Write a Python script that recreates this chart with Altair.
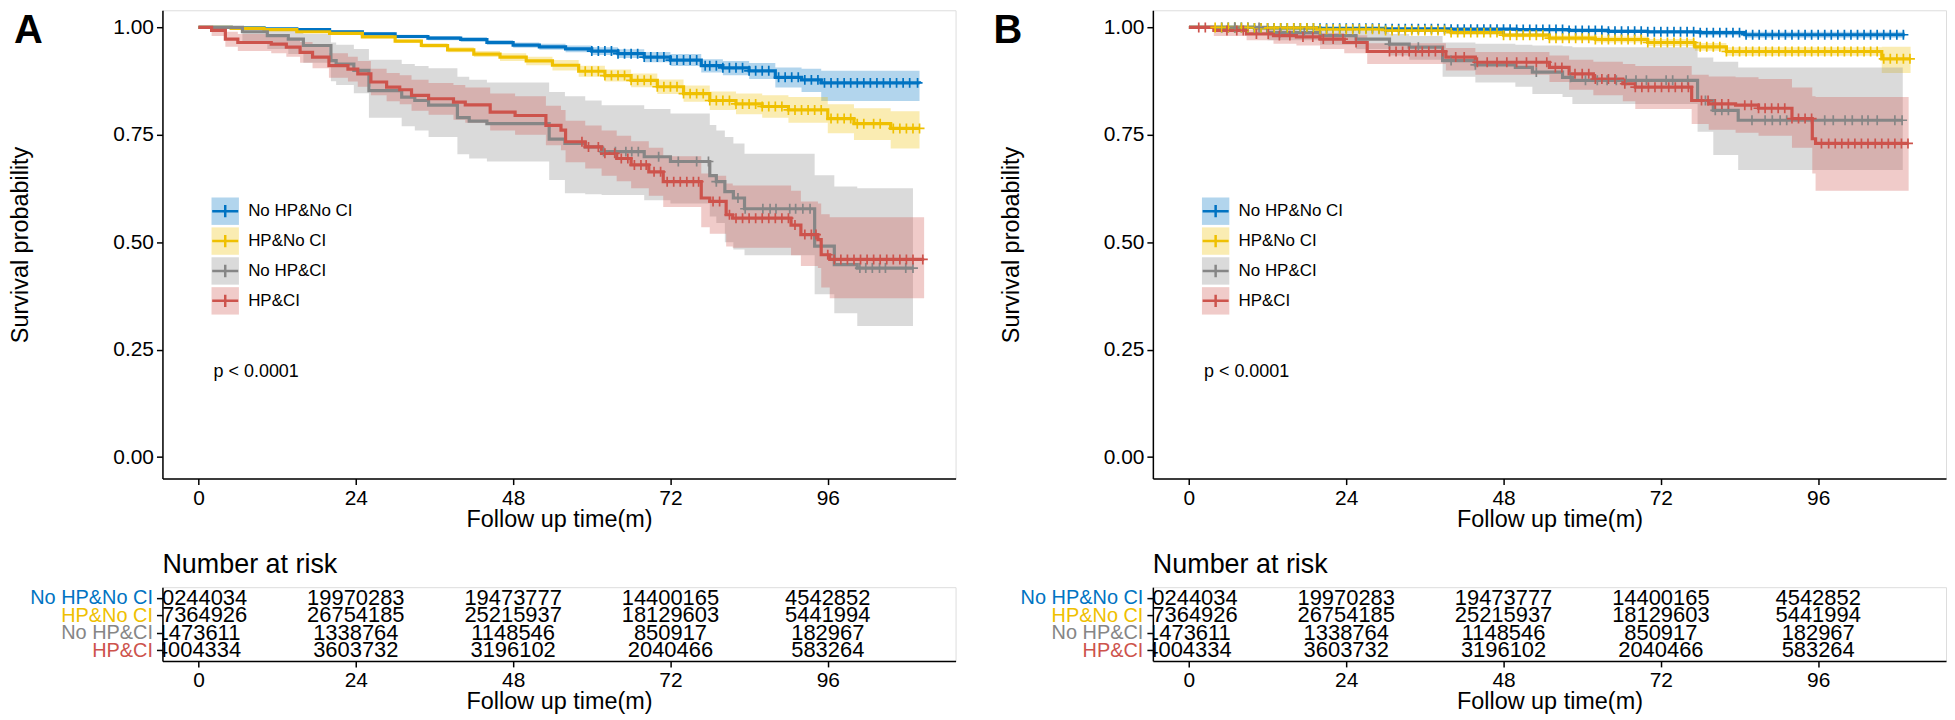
import bisect
import altair as alt
import pandas as pd

GROUPS = ["No HP&No CI", "HP&No CI", "No HP&CI", "HP&CI"]
CODES = ["nn", "hn", "nc", "hc"]
COLORS = ["#0073C2", "#EFC000", "#868686", "#CD534C"]
FONT = "Liberation Sans"

X_TICKS = [0, 24, 48, 72, 96]
Y_TICKS = [0, 0.25, 0.5, 0.75, 1.0]
RISK_TIMES = [0, 24, 48, 72, 96]

# number at risk (same table under both panels)
RISK_NN = ["20244034", "19970283", "19473777", "14400165", "4542852"]
RISK_HN = ["27364926", "26754185", "25215937", "18129603", "5441994"]
RISK_NC = ["1473611", "1338764", "1148546", "850917", "182967"]
RISK_HC = ["4004334", "3603732", "3196102", "2040466", "583264"]

PVAL_TEXT = "p < 0.0001"
PVAL_X = 2.3
PVAL_Y = 0.197

# ---------------- Panel A ----------------
A_nn_t = [0, 5, 10, 15, 20, 25, 30, 35, 40, 44, 48, 52, 56, 60, 64, 68, 72, 76.7, 80, 84, 88, 92, 95, 110]
A_nn_s = [1.0, 0.999, 0.997, 0.995, 0.99, 0.985, 0.979, 0.975, 0.972, 0.965, 0.959, 0.955, 0.95, 0.945, 0.939, 0.931, 0.924, 0.911, 0.906, 0.899, 0.884, 0.878, 0.871, 0.870]
A_nn_lo = [1.0, 0.998, 0.995, 0.992, 0.987, 0.981, 0.975, 0.970, 0.966, 0.959, 0.953, 0.948, 0.942, 0.936, 0.929, 0.919, 0.910, 0.895, 0.889, 0.88, 0.86, 0.85, 0.829, 0.828]
A_nn_up = [1.0, 1.0, 0.999, 0.998, 0.993, 0.989, 0.983, 0.98, 0.978, 0.971, 0.965, 0.962, 0.958, 0.954, 0.949, 0.943, 0.938, 0.926, 0.922, 0.917, 0.907, 0.904, 0.899, 0.899]
A_nn_cens = [60, 61, 62, 63, 64, 65, 66, 67, 68, 69, 70, 71, 72, 73, 74, 75, 76, 77.3, 78, 79, 80, 81, 82, 83, 84, 85, 86, 87, 88.5, 89.5,
             90.5, 91.5, 92.5, 93.5, 94.5, 95.5, 96.5, 97.5, 98.5, 99.5, 100.5, 101.5, 102.5, 103.5, 104.5, 105.5, 106.5, 107.5, 108.5, 109.7]

A_hn_t = [0, 5, 10, 15, 20, 25, 30, 34, 38, 42, 46, 50, 54, 58, 62, 66, 70, 74, 78, 82, 86, 90, 96, 100, 105.6, 110]
A_hn_s = [1.0, 0.998, 0.995, 0.99, 0.986, 0.978, 0.968, 0.958, 0.948, 0.938, 0.931, 0.922, 0.912, 0.898, 0.888, 0.877, 0.862, 0.846, 0.83, 0.822, 0.816, 0.808, 0.788, 0.776, 0.765, 0.765]
A_hn_lo = [1.0, 0.997, 0.993, 0.988, 0.983, 0.975, 0.964, 0.953, 0.942, 0.931, 0.922, 0.912, 0.9, 0.885, 0.874, 0.861, 0.845, 0.827, 0.808, 0.798, 0.79, 0.778, 0.754, 0.738, 0.718, 0.718]
A_hn_up = [1.0, 0.999, 0.997, 0.993, 0.989, 0.982, 0.972, 0.963, 0.954, 0.945, 0.94, 0.932, 0.924, 0.911, 0.902, 0.893, 0.879, 0.865, 0.851, 0.846, 0.842, 0.838, 0.821, 0.812, 0.805, 0.805]
A_hn_cens = [59, 60, 61, 62, 63, 64, 65, 66, 67, 68, 69, 70, 71, 72, 73, 74, 75, 76, 77, 78, 79, 80, 81, 82, 83, 84, 85, 86, 87, 88,
             89, 90, 91, 92, 93, 94, 95, 96.5, 97.5, 98.5, 99.5, 100.5, 101.5, 103, 104, 106, 107, 108, 109, 110]

A_nc_t = [0, 6.7, 10.5, 13.7, 16, 20.2, 21, 23.7, 26, 31, 33, 35.1, 39.5, 41.3, 44, 53.5, 55.9, 59, 61.5, 68, 72, 78, 79, 80.3, 81.6, 83.3, 94, 97, 100.5, 109]
A_nc_s = [1.0, 0.99, 0.981, 0.973, 0.958, 0.923, 0.915, 0.9, 0.853, 0.838, 0.83, 0.819, 0.79, 0.782, 0.776, 0.74, 0.73, 0.722, 0.711, 0.699, 0.688, 0.655, 0.641, 0.618, 0.603, 0.578, 0.491, 0.448, 0.44, 0.44]
A_nc_lo = [1.0, 0.965, 0.95, 0.938, 0.918, 0.875, 0.866, 0.847, 0.79, 0.77, 0.76, 0.745, 0.705, 0.695, 0.688, 0.645, 0.614, 0.612, 0.61, 0.598, 0.59, 0.56, 0.545, 0.5, 0.483, 0.47, 0.379, 0.335, 0.305, 0.305]
A_nc_up = [1.0, 1.0, 0.998, 0.993, 0.985, 0.965, 0.96, 0.95, 0.925, 0.915, 0.91, 0.905, 0.885, 0.878, 0.872, 0.85, 0.84, 0.83, 0.819, 0.81, 0.8, 0.773, 0.76, 0.745, 0.73, 0.706, 0.656, 0.63, 0.626, 0.626]
A_nc_cens = [61.8, 63.6, 65.2, 66.1, 67.1, 70.2, 73.2, 76, 77.8, 79, 82.3, 83.4, 86.1, 87.2, 88.1, 90.2, 91.1, 92.2, 93.3,
             100.9, 101.8, 102.8, 103.9, 104.8, 107.9, 109]

A_hc_t = [0, 2, 4.1, 6, 11.1, 13.4, 15.5, 17.4, 19.9, 22.8, 24.3, 26.3, 28.7, 30.7, 32.5, 35.1, 38.9, 40.7, 44.5, 48.3, 53, 55.3, 56,
          59, 61.5, 63.8, 66, 68.7, 70.9, 76.7, 78, 80.5, 81.5, 90.4, 91.9, 94.5, 95, 96.3, 110.7]
A_hc_s = [1.0, 0.993, 0.973, 0.965, 0.961, 0.954, 0.942, 0.931, 0.911, 0.903, 0.892, 0.873, 0.861, 0.855, 0.842, 0.834, 0.826, 0.82, 0.803, 0.795, 0.772, 0.761, 0.734,
          0.722, 0.707, 0.695, 0.68, 0.664, 0.641, 0.603, 0.595, 0.564, 0.556, 0.54, 0.518, 0.506, 0.471, 0.46, 0.46]
A_hc_lo = [1.0, 0.98, 0.955, 0.945, 0.94, 0.932, 0.918, 0.905, 0.883, 0.874, 0.862, 0.842, 0.828, 0.821, 0.806, 0.797, 0.785, 0.778, 0.76, 0.75, 0.726, 0.714, 0.686,
           0.672, 0.655, 0.642, 0.626, 0.608, 0.582, 0.535, 0.52, 0.49, 0.487, 0.47, 0.445, 0.44, 0.395, 0.37, 0.37]
A_hc_up = [1.0, 1.0, 0.99, 0.985, 0.982, 0.976, 0.966, 0.957, 0.94, 0.932, 0.922, 0.904, 0.894, 0.889, 0.878, 0.871, 0.866, 0.86, 0.846, 0.84, 0.818, 0.808, 0.783,
           0.772, 0.76, 0.748, 0.735, 0.72, 0.7, 0.66, 0.655, 0.637, 0.632, 0.62, 0.595, 0.59, 0.565, 0.558, 0.558]
A_hc_cens = [58.5, 59.5, 61, 62, 63.5, 64.5, 65.5, 66.5, 67.5, 68.3, 69.5, 70.5, 71.5, 72.5, 73.5, 74.5, 75.5, 76.3, 78.5, 79.5, 81, 82, 83, 84, 85,
             86, 87, 88, 89, 90, 91, 92.5, 93.5, 94.2, 96, 97, 98, 99, 100, 101, 102, 103, 104, 105, 106, 107, 108, 109, 110.5]

# ---------------- Panel B ----------------
B_nn_t = [0, 10, 20, 30, 40, 50, 58, 64, 70, 78, 84.8, 109.2]
B_nn_s = [1.0, 0.999, 0.998, 0.997, 0.996, 0.995, 0.993, 0.991, 0.99, 0.988, 0.983, 0.983]
B_nn_lo = [1.0, 0.998, 0.996, 0.994, 0.993, 0.991, 0.989, 0.987, 0.985, 0.982, 0.976, 0.975]
B_nn_up = [1.0, 1.0, 0.999, 0.999, 0.998, 0.998, 0.997, 0.995, 0.994, 0.993, 0.99, 0.99]
B_nn_cens = [5, 6, 7, 8, 9, 10, 11, 12, 13, 14, 15, 16, 17, 18, 19, 20, 21, 22, 23, 24, 25, 26, 27, 28, 29, 30, 31, 32, 33, 34,
             35, 36, 37, 38, 39, 40, 41, 42, 43, 44, 45, 46, 47, 48, 49, 50, 51, 52, 53, 54, 55, 56, 57, 58, 59, 60, 61, 62, 63, 64,
             65, 66, 67, 68, 69, 70, 71, 72, 73, 74, 75, 76, 77, 78, 79, 80, 81, 82, 83, 84, 85, 86, 87, 88, 89, 90, 91, 92, 93, 94,
             95, 96, 97, 98, 99, 100, 101, 102, 103, 104, 105, 106, 107, 108, 109]

B_hn_t = [0, 10, 19.5, 30, 40, 48, 55, 62, 70, 77.2, 82, 105.7, 110.1]
B_hn_s = [1.0, 0.999, 0.996, 0.993, 0.988, 0.982, 0.975, 0.972, 0.965, 0.955, 0.944, 0.927, 0.927]
B_hn_lo = [1.0, 0.998, 0.994, 0.99, 0.984, 0.977, 0.969, 0.965, 0.957, 0.946, 0.934, 0.894, 0.894]
B_hn_up = [1.0, 1.0, 0.998, 0.996, 0.992, 0.987, 0.981, 0.979, 0.973, 0.964, 0.954, 0.955, 0.955]
B_hn_cens = [4, 5, 6, 7, 8, 9, 10, 11, 12, 13, 14, 15, 16, 17, 18, 19, 20, 21, 22, 23, 24, 25, 26, 27, 28, 29, 30, 31, 32, 33,
             34, 35, 36, 37, 38, 39, 40, 41, 42, 43, 44, 45, 46, 47, 48, 49, 50, 51, 52, 53, 54, 55, 56, 57, 58, 59, 60, 61, 62, 63,
             64, 65, 66, 67, 68, 69, 70, 71, 72, 73, 74, 75, 76, 77, 78, 79, 80, 81, 82, 83, 84, 85, 86, 87, 88, 89, 90, 91, 92, 93,
             94, 95, 96, 97, 98, 99, 100, 101, 102, 103, 104, 105, 106, 107, 108, 109, 110]

B_nc_t = [0, 12, 20, 25.5, 30.6, 33.6, 38.7, 43.7, 49.8, 52.4, 57, 58.5, 77.6, 80, 83.8, 108.9]
B_nc_s = [1.0, 0.988, 0.981, 0.973, 0.961, 0.954, 0.923, 0.913, 0.907, 0.896, 0.884, 0.877, 0.83, 0.807, 0.784, 0.784]
B_nc_lo = [1.0, 0.97, 0.96, 0.95, 0.935, 0.925, 0.885, 0.872, 0.862, 0.845, 0.838, 0.822, 0.757, 0.703, 0.668, 0.668]
B_nc_up = [1.0, 1.0, 0.996, 0.992, 0.985, 0.98, 0.965, 0.962, 0.96, 0.958, 0.956, 0.954, 0.93, 0.92, 0.907, 0.907]
B_nc_cens = [7, 10.7, 13.9, 17.6, 30.6, 35, 40, 43.7, 53, 58.2, 60.5, 62.3, 63.8, 65.2, 66.7, 68.2, 69.8, 72.8, 73.8, 76.1,
             78.8, 80.3, 81.3, 82.3, 85.9, 87.9, 89, 90.2, 91.2, 97, 98.3, 100.1, 101.2, 102.7, 103.6, 105, 107.7, 108.8]

B_hc_t = [0, 3.8, 8.8, 12.9, 16.4, 20, 23.7, 27.2, 39.2, 43.7, 55, 58, 61.7, 66.2, 68.1, 76.7, 79.3, 83.4, 86.9, 92, 95.1, 95.6, 109.8]
B_hc_s = [1.0, 0.993, 0.985, 0.981, 0.978, 0.973, 0.965, 0.944, 0.931, 0.919, 0.907, 0.892, 0.88, 0.869, 0.861, 0.83, 0.822, 0.819, 0.812, 0.788, 0.741, 0.73, 0.73]
B_hc_lo = [1.0, 0.98, 0.97, 0.962, 0.958, 0.95, 0.94, 0.915, 0.9, 0.89, 0.873, 0.855, 0.842, 0.828, 0.81, 0.775, 0.762, 0.755, 0.748, 0.72, 0.66, 0.62, 0.62]
B_hc_up = [1.0, 1.0, 0.995, 0.993, 0.99, 0.987, 0.982, 0.963, 0.952, 0.943, 0.935, 0.925, 0.92, 0.915, 0.91, 0.89, 0.886, 0.884, 0.88, 0.86, 0.84, 0.838, 0.838]
B_hc_cens = [1.5, 2.5, 5.8, 7.3, 8.3, 10.3, 12.1, 13.8, 15.4, 17.4, 18.9, 20.5, 22, 23.5, 25.5, 30.6, 31.6, 32.6, 33.6, 34.6, 35.6, 36.6,
             37.6, 38.7, 40.7, 42, 44, 45.5, 47, 48.5, 50, 51.5, 53, 54.6, 55.9, 56.9, 58.9, 60, 61, 62, 63, 64, 65, 66.5, 68.1, 69.1,
             70.1, 71.1, 72.1, 73.2, 74.2, 75.2, 76.2, 78.2, 79.2, 80.3, 81.3, 82.3, 84.8, 85.8, 86.9, 87.9, 88.9, 89.9, 90.9, 92, 93,
             94, 95, 96.5, 97.6, 98.6, 99.6, 100.6, 101.6, 102.6, 103.6, 104.7, 105.7, 106.7, 107.7, 108.7, 109.7]

A_CURVES = [(A_nn_t, A_nn_s, A_nn_lo, A_nn_up), (A_hn_t, A_hn_s, A_hn_lo, A_hn_up),
            (A_nc_t, A_nc_s, A_nc_lo, A_nc_up), (A_hc_t, A_hc_s, A_hc_lo, A_hc_up)]
A_CENS = [A_nn_cens, A_hn_cens, A_nc_cens, A_hc_cens]
B_CURVES = [(B_nn_t, B_nn_s, B_nn_lo, B_nn_up), (B_hn_t, B_hn_s, B_hn_lo, B_hn_up),
            (B_nc_t, B_nc_s, B_nc_lo, B_nc_up), (B_hc_t, B_hc_s, B_hc_lo, B_hc_up)]
B_CENS = [B_nn_cens, B_hn_cens, B_nc_cens, B_hc_cens]
RISK = [RISK_NN, RISK_HN, RISK_NC, RISK_HC]

# ---------------- layout constants ----------------
PW, PH = 796, 470
TH = 74


def curves_frame(curves):
    rows = []
    for g, code, (t, s, lo, up) in zip(GROUPS, CODES, curves):
        for ti, si, li, ui in zip(t, s, lo, up):
            rows.append({"t": ti, "s": si, "lo": li, "up": ui, "grp": g, "code": code})
    return pd.DataFrame(rows)


def censor_frame(curves, censors):
    rows = []
    for code, (t, s, lo, up), ct in zip(CODES, curves, censors):
        for c in ct:
            i = bisect.bisect_right(t, c) - 1
            rows.append({"t": c, "s": s[i], "code": code})
    return pd.DataFrame(rows)


XS = alt.Scale(domain=[-5.5, 115.5], nice=False, zero=False)
YS = alt.Scale(domain=[-0.05, 1.04], nice=False, zero=False)

AX_COMMON = dict(grid=False, domainColor="black", tickColor="black", labelColor="black", titleColor="black",
                 domainWidth=1.5, tickWidth=1.5, tickSize=6, labelFont=FONT, titleFont=FONT,
                 titleFontWeight="normal")

X_AXIS = alt.Axis(values=X_TICKS, title="Follow up time(m)", labelFontSize=21, titleFontSize=23.5,
                  labelPadding=3, titlePadding=-1, **AX_COMMON)
Y_AXIS = alt.Axis(values=Y_TICKS, format=".2f", title="Survival probability", labelFontSize=21,
                  titleFontSize=23.5, labelPadding=3, titleX=-142, titleY=PH / 2, titleBaseline="middle",
                  **AX_COMMON)

LEG_COMMON = dict(orient="none", legendX=48, legendY=187, title=None, symbolSize=756, symbolStrokeWidth=2.5,
                  labelFont=FONT, labelFontSize=17, labelColor="black", labelOffset=8, rowPadding=0, padding=0,
                  clipHeight=29.3)
FILL_LEGEND = alt.Legend(symbolType="square", symbolOpacity=0.3, symbolStrokeColor="transparent", **LEG_COMMON)
STROKE_LEGEND = alt.Legend(symbolType="M-0.95,0H0.95M0,-0.45V0.45", labelExpr="''", **LEG_COMMON)


def km_chart(curves, censors, letter, letter_x):
    cdf = curves_frame(curves)
    pdf = censor_frame(curves, censors)
    x = alt.X("t:Q", scale=XS, axis=X_AXIS)
    fill = alt.Fill("grp:N", scale=alt.Scale(domain=GROUPS, range=COLORS), legend=FILL_LEGEND)
    stroke = alt.Stroke("code:N", scale=alt.Scale(domain=CODES, range=COLORS), legend=STROKE_LEGEND)

    band = alt.Chart(cdf).mark_area(interpolate="step-after", opacity=0.3).encode(
        x=x, y=alt.Y("lo:Q", scale=YS, axis=Y_AXIS), y2="up:Q", fill=fill)
    line = alt.Chart(cdf).mark_line(interpolate="step-after", strokeWidth=3.2).encode(
        x=x, y=alt.Y("s:Q", scale=YS, axis=Y_AXIS), stroke=stroke)
    pts = alt.Chart(pdf).mark_point(shape="M-1,0H1M0,-1V1", size=100, strokeWidth=1.7, filled=False,
                                    opacity=1).encode(
        x=x, y=alt.Y("s:Q", scale=YS, axis=Y_AXIS), stroke=stroke)
    pval = alt.Chart(pd.DataFrame({"t": [PVAL_X], "s": [PVAL_Y], "label": [PVAL_TEXT]})).mark_text(
        align="left", baseline="middle", fontSize=18, font=FONT, color="black").encode(
        x=x, y=alt.Y("s:Q", scale=YS, axis=Y_AXIS), text="label:N")
    let = alt.Chart(pd.DataFrame({"label": [letter]})).mark_text(
        align="left", baseline="alphabetic", fontSize=40, fontWeight="bold", font=FONT, color="black").encode(
        x=alt.value(letter_x), y=alt.value(33), text="label:N")
    return alt.layer(band, line, pts, pval, let).properties(width=PW, height=PH)


LABEL_COLOR = {
    "condition": [
        {"test": "datum.value === '%s'" % GROUPS[0], "value": COLORS[0]},
        {"test": "datum.value === '%s'" % GROUPS[1], "value": COLORS[1]},
        {"test": "datum.value === '%s'" % GROUPS[2], "value": COLORS[2]},
    ],
    "value": COLORS[3],
}


def risk_chart():
    rows = []
    for g, vals in zip(GROUPS, RISK):
        for t, n in zip(RISK_TIMES, vals):
            rows.append({"t": t, "grp": g, "n": n})
    df = pd.DataFrame(rows)
    y_axis = alt.Axis(title=None, labelFontSize=20, labelPadding=4, grid=False, domainColor="black",
                      tickColor="black", domainWidth=1.5, tickWidth=1.5, tickSize=6, labelFont=FONT,
                      labelColor=LABEL_COLOR)
    nums = alt.Chart(df).mark_text(clip=True, fontSize=22, font=FONT, color="black", baseline="middle",
                                   align="center").encode(
        x=alt.X("t:Q", scale=XS, axis=X_AXIS),
        y=alt.Y("grp:N", scale=alt.Scale(type="point", domain=GROUPS, padding=0.6), axis=y_axis),
        text="n:N",
    )
    head = alt.Chart(pd.DataFrame({"label": ["Number at risk"]})).mark_text(
        align="left", baseline="alphabetic", fontSize=27, font=FONT, color="black").encode(
        x=alt.value(0), y=alt.value(-14), text="label:N")
    return alt.layer(nums, head).properties(width=PW, height=TH)


chart = alt.concat(
    km_chart(A_CURVES, A_CENS, "A", -149),
    km_chart(B_CURVES, B_CENS, "B", -160),
    risk_chart(),
    risk_chart(),
    columns=2,
    spacing={"row": 109, "column": 198},
    bounds="flush",
    align="each",
).resolve_scale(fill="independent", stroke="independent").properties(
    padding={"left": 0, "top": 0, "right": 0, "bottom": 0}
).configure_view(strokeWidth=0).configure(background="white")

chart.save("out.html", embed_options={"renderer": "svg", "actions": False})
